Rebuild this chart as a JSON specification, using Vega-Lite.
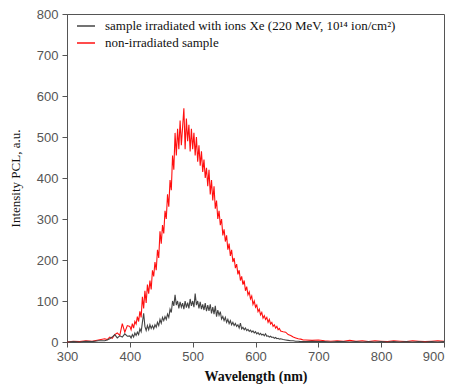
{
  "$schema": "https://vega.github.io/schema/vega-lite/v6.json",
  "width": 377,
  "height": 328,
  "autosize": {"type": "none"},
  "padding": {"left": 67, "top": 14, "right": 9, "bottom": 47},
  "background": "white",
  "config": {
    "view": {"stroke": "#555", "strokeWidth": 1},
    "axis": {"grid": false, "domainColor": "#555", "tickColor": "#555", "labelColor": "#555", "labelFont": "Liberation Sans", "labelFontSize": 13, "titleColor": "#111", "titleFont": "Liberation Serif", "titleFontSize": 13, "tickSize": 5, "labelFlush": false}
  },
  "data": {"values": [
    {"w":300,"non":0,"irr":0},{"w":310,"non":2,"irr":1},{"w":320,"non":1,"irr":0},{"w":330,"non":3,"irr":2},{"w":340,"non":2,"irr":1},{"w":350,"non":5,"irr":3},{"w":360,"non":8,"irr":3},
    {"w":364,"non":6,"irr":5},{"w":368,"non":12,"irr":8},{"w":372,"non":9,"irr":12},{"w":376,"non":18,"irr":18},{"w":380,"non":22,"irr":10},{"w":384,"non":16,"irr":15},{"w":388,"non":45,"irr":12},{"w":392,"non":24,"irr":20},{"w":396,"non":40,"irr":14},
    {"w":400,"non":38,"irr":15},{"w":402,"non":30,"irr":10},{"w":404,"non":45,"irr":18},{"w":406,"non":34,"irr":12},{"w":408,"non":50,"irr":22},{"w":410,"non":44,"irr":16},{"w":412,"non":62,"irr":24},{"w":414,"non":50,"irr":18},{"w":416,"non":75,"irr":32},{"w":418,"non":60,"irr":25},
    {"w":420,"non":110,"irr":48},{"w":422,"non":82,"irr":70},{"w":424,"non":125,"irr":38},{"w":426,"non":95,"irr":28},{"w":428,"non":140,"irr":40},{"w":430,"non":118,"irr":30},{"w":432,"non":150,"irr":42},{"w":434,"non":128,"irr":33},{"w":436,"non":175,"irr":40},{"w":438,"non":160,"irr":32},
    {"w":440,"non":195,"irr":42},{"w":442,"non":175,"irr":36},{"w":444,"non":225,"irr":48},{"w":446,"non":205,"irr":40},{"w":448,"non":270,"irr":55},{"w":450,"non":240,"irr":46},{"w":452,"non":285,"irr":60},{"w":454,"non":265,"irr":52},{"w":456,"non":320,"irr":62},{"w":458,"non":300,"irr":55},
    {"w":460,"non":360,"irr":68},{"w":462,"non":330,"irr":60},{"w":464,"non":395,"irr":80},{"w":466,"non":370,"irr":72},{"w":468,"non":455,"irr":100},{"w":470,"non":420,"irr":88},{"w":472,"non":510,"irr":115},{"w":474,"non":455,"irr":90},{"w":476,"non":520,"irr":100},{"w":478,"non":470,"irr":82},
    {"w":480,"non":540,"irr":98},{"w":482,"non":480,"irr":85},{"w":484,"non":525,"irr":95},{"w":486,"non":570,"irr":80},{"w":488,"non":470,"irr":100},{"w":490,"non":545,"irr":84},{"w":492,"non":490,"irr":96},{"w":494,"non":530,"irr":82},{"w":496,"non":465,"irr":105},{"w":498,"non":520,"irr":88},
    {"w":500,"non":470,"irr":100},{"w":502,"non":510,"irr":85},{"w":504,"non":455,"irr":118},{"w":506,"non":500,"irr":90},{"w":508,"non":440,"irr":100},{"w":510,"non":480,"irr":82},{"w":512,"non":430,"irr":98},{"w":514,"non":465,"irr":80},{"w":516,"non":415,"irr":92},{"w":518,"non":445,"irr":78},
    {"w":520,"non":400,"irr":95},{"w":522,"non":425,"irr":75},{"w":524,"non":380,"irr":90},{"w":526,"non":420,"irr":76},{"w":528,"non":360,"irr":92},{"w":530,"non":395,"irr":70},{"w":532,"non":345,"irr":85},{"w":534,"non":380,"irr":68},{"w":536,"non":325,"irr":88},{"w":538,"non":345,"irr":62},
    {"w":540,"non":300,"irr":78},{"w":542,"non":320,"irr":65},{"w":544,"non":285,"irr":74},{"w":546,"non":300,"irr":56},{"w":548,"non":260,"irr":62},{"w":550,"non":275,"irr":52},{"w":552,"non":245,"irr":60},{"w":554,"non":260,"irr":48},{"w":556,"non":225,"irr":55},{"w":558,"non":240,"irr":45},
    {"w":560,"non":210,"irr":52},{"w":562,"non":225,"irr":42},{"w":564,"non":195,"irr":48},{"w":566,"non":205,"irr":40},{"w":568,"non":180,"irr":45},{"w":570,"non":190,"irr":38},{"w":572,"non":165,"irr":42},{"w":574,"non":175,"irr":34},{"w":576,"non":150,"irr":46},{"w":578,"non":160,"irr":32},
    {"w":580,"non":140,"irr":36},{"w":582,"non":150,"irr":30},{"w":584,"non":125,"irr":34},{"w":586,"non":135,"irr":28},{"w":588,"non":115,"irr":31},{"w":590,"non":122,"irr":26},{"w":592,"non":105,"irr":29},{"w":594,"non":112,"irr":24},{"w":596,"non":92,"irr":27},{"w":598,"non":100,"irr":22},
    {"w":600,"non":85,"irr":25},{"w":602,"non":90,"irr":20},{"w":604,"non":74,"irr":23},{"w":606,"non":80,"irr":18},{"w":608,"non":66,"irr":21},{"w":610,"non":72,"irr":17},{"w":612,"non":58,"irr":19},{"w":614,"non":64,"irr":15},{"w":616,"non":55,"irr":20},{"w":618,"non":60,"irr":14},
    {"w":620,"non":48,"irr":15},{"w":622,"non":55,"irr":12},{"w":624,"non":44,"irr":14},{"w":626,"non":48,"irr":11},{"w":628,"non":38,"irr":12},{"w":630,"non":42,"irr":9},{"w":632,"non":34,"irr":11},{"w":634,"non":38,"irr":8},{"w":636,"non":30,"irr":9},{"w":638,"non":33,"irr":7},
    {"w":640,"non":27,"irr":8},{"w":644,"non":25,"irr":6},{"w":648,"non":24,"irr":5},{"w":652,"non":18,"irr":4},{"w":656,"non":16,"irr":3},{"w":660,"non":12,"irr":3},{"w":664,"non":10,"irr":2},{"w":668,"non":8,"irr":2},{"w":672,"non":7,"irr":1},{"w":676,"non":5,"irr":1},{"w":680,"non":5,"irr":1},
    {"w":690,"non":4,"irr":2},{"w":700,"non":5,"irr":1},{"w":710,"non":3,"irr":1},{"w":720,"non":2,"irr":0},{"w":730,"non":3,"irr":1},{"w":740,"non":2,"irr":1},{"w":750,"non":4,"irr":0},{"w":760,"non":2,"irr":1},{"w":770,"non":3,"irr":0},{"w":780,"non":1,"irr":1},{"w":790,"non":3,"irr":0},
    {"w":800,"non":2,"irr":1},{"w":810,"non":1,"irr":0},{"w":820,"non":3,"irr":1},{"w":830,"non":2,"irr":0},{"w":840,"non":1,"irr":1},{"w":850,"non":3,"irr":0},{"w":860,"non":2,"irr":1},{"w":870,"non":1,"irr":0},{"w":880,"non":2,"irr":1},{"w":890,"non":3,"irr":0},{"w":900,"non":2,"irr":1}
  ]},
  "layer": [
    {
      "mark": {"type": "line", "strokeWidth": 1.1, "interpolate": "linear"},
      "encoding": {
        "x": {"field": "w", "type": "quantitative", "scale": {"domain": [300, 900], "nice": false}, "axis": {"values": [300,400,500,600,700,800,900], "title": "Wavelength (nm)", "titleFontWeight": "bold", "titleFontSize": 14, "titlePadding": 6, "labelPadding": 3, "labelAlign": {"expr": "datum.value == 900 ? 'right' : 'center'"}}},
        "y": {"field": "non", "type": "quantitative", "scale": {"domain": [0, 800], "nice": false}, "axis": {"values": [0,100,200,300,400,500,600,700,800], "title": "Intensity PCL, a.u.", "titleFontWeight": "normal", "titlePadding": 14, "labelPadding": 4}},
        "color": {"datum": "non-irradiated sample", "type": "nominal", "scale": {"domain": ["sample irradiated with ions Xe (220 MeV, 10¹⁴ ion/cm²)", "non-irradiated sample"], "range": ["#444444", "#ff1010"]},
          "legend": {"title": null, "orient": "none", "legendX": 9, "legendY": 2, "padding": 0, "symbolType": "stroke", "symbolSize": 324, "symbolStrokeWidth": 1.5, "labelFont": "Liberation Serif", "labelFontSize": 13, "labelColor": "#111", "labelLimit": 400, "rowPadding": 0, "labelOffset": 9}}
      }
    },
    {
      "mark": {"type": "line", "strokeWidth": 1.1, "interpolate": "linear"},
      "encoding": {
        "x": {"field": "w", "type": "quantitative"},
        "y": {"field": "irr", "type": "quantitative"},
        "color": {"datum": "sample irradiated with ions Xe (220 MeV, 10¹⁴ ion/cm²)", "type": "nominal"}
      }
    }
  ]
}
